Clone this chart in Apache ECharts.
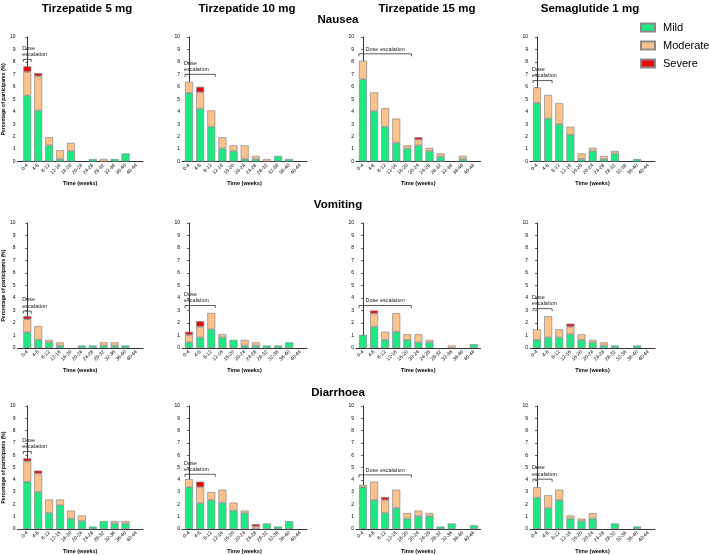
<!DOCTYPE html>
<html><head><meta charset="utf-8">
<script src="https://cdn.jsdelivr.net/npm/echarts@6/dist/echarts.min.js"></script>
<style>html,body{margin:0;padding:0;background:#fff}#c{width:709px;height:555px}</style>
</head><body><div id="c"></div>
<script>
// ---------- data ----------
const timeLabels = ['0-4','4-8','8-12','12-16','16-20','20-24','24-28','28-32','32-36','36-40','40-44'];
const drugs = ['Tirzepatide 5 mg','Tirzepatide 10 mg','Tirzepatide 15 mg','Semaglutide 1 mg'];
const events = ['Nausea','Vomiting','Diarrhoea'];
const severities = ['Mild','Moderate','Severe'];
const yTicks = [0,1,2,3,4,5,6,7,8,9,10];
const escalationText = 'Dose escalation';

// Nausea
const nauT5Mild = [5.3,4.1,1.3,0.2,0.85,0,0.2,0,0.2,0.65,0];
const nauT5Mod  = [1.9,2.75,0.65,0.7,0.65,0,0,0.2,0,0,0];
const nauT5Sev  = [0.45,0.25,0,0,0,0,0,0,0,0,0];
const nauT10Mild = [5.5,4.25,2.8,1.05,0.85,0.2,0.2,0,0.45,0.2,0];
const nauT10Mod  = [0.9,1.3,1.3,0.9,0.45,1.1,0.25,0.2,0,0,0];
const nauT10Sev  = [0,0.45,0,0,0,0,0,0,0,0,0];
const nauT15Mild = [6.6,4.05,2.8,1.5,1.05,1.3,0.85,0.4,0,0.2,0];
const nauT15Mod  = [1.5,1.5,1.5,1.95,0.25,0.45,0.25,0.25,0,0.25,0];
const nauT15Sev  = [0,0,0,0,0,0.2,0,0,0,0,0];
const nauSemaMild = [4.7,3.45,3.0,2.15,0.2,0.85,0.2,0.65,0,0.2,0];
const nauSemaMod  = [1.25,1.9,1.7,0.65,0.45,0.25,0.25,0.2,0,0,0];
const nauSemaSev  = [0,0,0,0,0,0,0,0,0,0,0];
// Vomiting
const vomT5Mild = [1.25,0.65,0.45,0.2,0,0.2,0.2,0.2,0.2,0.2,0];
const vomT5Mod  = [1.05,1.1,0.2,0.25,0,0,0,0.25,0.25,0,0];
const vomT5Sev  = [0.25,0,0,0,0,0,0,0,0,0,0];
const vomT10Mild = [0.45,0.85,1.5,0.85,0.65,0.2,0.2,0.2,0.2,0.45,0];
const vomT10Mod  = [0.6,0.85,1.3,0.25,0,0.45,0.25,0,0,0,0];
const vomT10Sev  = [0.25,0.45,0,0,0,0,0,0,0,0,0];
const vomT15Mild = [1.05,1.7,0.65,1.3,0.65,0.45,0.45,0,0,0,0.3];
const vomT15Mod  = [0,1.05,0.65,1.5,0.45,0.65,0.2,0,0.2,0,0];
const vomT15Sev  = [0,0.25,0,0,0,0,0,0,0,0,0];
const vomSemaMild = [0.65,0.85,0.85,1.1,0.65,0.45,0.2,0.2,0,0.2,0];
const vomSemaMod  = [0.85,1.7,0.65,0.6,0.45,0.2,0.25,0,0,0,0];
const vomSemaSev  = [0,0,0,0.25,0,0,0,0,0,0,0];
// Diarrhoea
const diaT5Mild = [3.85,3.0,1.3,1.95,0.85,0.65,0.2,0.65,0.45,0.45,0];
const diaT5Mod  = [1.65,1.5,1.1,0.45,0.65,0.45,0,0,0.2,0.2,0];
const diaT5Sev  = [0.25,0.25,0,0,0,0,0,0,0,0,0];
const diaT10Mild = [3.4,2.1,2.35,2.15,1.5,1.3,0,0.45,0.2,0.65,0];
const diaT10Mod  = [0.65,1.3,0.65,1.05,0.65,0.2,0.2,0,0,0,0];
const diaT10Sev  = [0,0.45,0,0,0,0,0.2,0,0,0,0];
const diaT15Mild = [3.4,2.35,1.3,1.7,0.85,1.05,1.05,0.2,0.45,0,0.3];
const diaT15Mod  = [0.2,1.5,1.05,1.5,0.45,0.45,0.25,0,0,0,0];
const diaT15Sev  = [0,0,0.25,0,0,0,0,0,0,0,0];
const diaSemaMild = [2.55,1.7,2.35,0.85,0.65,0.85,0,0.45,0,0.2,0];
const diaSemaMod  = [0.85,1.05,0.85,0.25,0.2,0.45,0,0,0,0,0];
const diaSemaSev  = [0,0,0,0,0,0,0,0,0,0,0];

// dose-escalation brackets: [first period index, last period index, y level]
const bracketNausea   = [[0,0,8.2],[0,2,7.0],[0,4,8.65],[0,1,6.5]];
const bracketVomiting = [[0,0,2.95],[0,2,3.4],[0,4,3.4],[0,1,3.15]];
const bracketDiarrhoea= [[0,0,6.3],[0,2,4.45],[0,4,4.4],[0,1,4.05]];

const panels = [
  [[nauT5Mild,nauT5Mod,nauT5Sev],[nauT10Mild,nauT10Mod,nauT10Sev],[nauT15Mild,nauT15Mod,nauT15Sev],[nauSemaMild,nauSemaMod,nauSemaSev]],
  [[vomT5Mild,vomT5Mod,vomT5Sev],[vomT10Mild,vomT10Mod,vomT10Sev],[vomT15Mild,vomT15Mod,vomT15Sev],[vomSemaMild,vomSemaMod,vomSemaSev]],
  [[diaT5Mild,diaT5Mod,diaT5Sev],[diaT10Mild,diaT10Mod,diaT10Sev],[diaT15Mild,diaT15Mod,diaT15Sev],[diaSemaMild,diaSemaMod,diaSemaSev]]
];
const brackets = [bracketNausea, bracketVomiting, bracketDiarrhoea];

// ---------- layout / style ----------
const FONT = 'Liberation Sans, Arial, Helvetica, sans-serif';
const colors = ['#1ee884','#fbc28c','#e8080c'];
const colLeft = [15,182,356,530];
const colWidth = [128,125,124.5,125];
const colMin = [-0.9,-0.63,-0.63,-0.63];
const rowTop = [37,223,406];
const rowHeight = [124.5,125,125];
const colTitleX = [87,247,427,590];
const rowTitle = [{x:338,y:14},{x:338,y:199},{x:338,y:387}];
const BAR_W = 8;

const grid=[], xAxis=[], yAxis=[], series=[], title=[];
drugs.forEach((d,c)=>title.push({text:d,left:colTitleX[c],top:3,textAlign:'center',padding:0,
  textStyle:{fontFamily:FONT,fontSize:11.5,fontWeight:'bold',color:'#000'}}));
events.forEach((e,r)=>title.push({text:e,left:rowTitle[r].x,top:rowTitle[r].y,textAlign:'center',padding:0,
  textStyle:{fontFamily:FONT,fontSize:11.5,fontWeight:'bold',color:'#000'}}));

for(let r=0;r<3;r++){
  for(let c=0;c<4;c++){
    const g=r*4+c;
    grid.push({left:colLeft[c],top:rowTop[r],width:colWidth[c],height:rowHeight[r],containLabel:false});
    xAxis.push({type:'value',gridIndex:g,min:colMin[c],max:10.6,
      axisLine:{show:true,lineStyle:{color:'#000',width:0.8}},
      axisTick:{show:false},splitLine:{show:false},
      axisLabel:{customValues:timeLabels.map((_,i)=>i),formatter:v=>timeLabels[Math.round(v)]||'',
        rotate:45,fontSize:5,fontFamily:FONT,color:'#000',margin:3},
      name:'Time (weeks)',nameLocation:'middle',nameGap:19,
      nameTextStyle:{fontSize:5.5,fontWeight:'bold',fontFamily:FONT,color:'#000'}});
    yAxis.push({type:'value',gridIndex:g,min:yTicks[0],max:yTicks[yTicks.length-1],interval:1,
      axisLine:{show:true,lineStyle:{color:'#000',width:0.8}},
      axisTick:{show:true,length:2,lineStyle:{color:'#000',width:0.6}},
      splitLine:{show:false},
      axisLabel:{fontSize:5,fontFamily:FONT,color:'#000',margin:2},
      name:c===0?'Percentage of participants (%)':'',nameLocation:'middle',nameGap:9,nameRotate:90,
      nameTextStyle:{fontSize:5,fontFamily:FONT,color:'#000',fontWeight:'bold'}});
    const sets=panels[r][c];
    severities.forEach((s,k)=>{
      series.push({name:s,type:'bar',xAxisIndex:g,yAxisIndex:g,stack:'p'+g,barWidth:BAR_W,
        itemStyle:{color:colors[k],borderColor:'#8a8a8a',borderWidth:0.7},
        emphasis:{disabled:true},
        // value first so it is the stacked dimension; period index second
        encode:{x:1,y:0},
        data:sets[k].map((v,i)=>[v===0?null:v, i])});
    });
    series.push({type:'custom',xAxisIndex:g,yAxisIndex:g,silent:true,z:10,clip:false,
      encode:{x:[0,1],y:2},
      data:[brackets[r][c]],
      renderItem:(params,api)=>{
        const s=api.coord([api.value(0),api.value(2)]);
        const e=api.coord([api.value(1),api.value(2)]);
        const x0=s[0]-BAR_W/2, x1=e[0]+BAR_W/2, y=s[1];
        const single = api.value(1)>=4;
        return {type:'group',children:[
          {type:'polyline',shape:{points:[[x0,y+2.5],[x0,y],[x1,y],[x1,y+2.5]]},
            style:{stroke:'#333',lineWidth:0.8,fill:null}},
          {type:'text',x:single?(x0+x1)/2:x0-1,y:y-1.5,
            style:{text:single?escalationText:escalationText.replace(' ','\n'),fontSize:5.5,lineHeight:6.5,
              fontFamily:FONT,fill:'#222',align:single?'center':'left',verticalAlign:'bottom'}}
        ]};
      }});
  }
}

const chart = echarts.init(document.getElementById('c'),null,{renderer:'canvas'});
chart.setOption({
  animation:false,
  backgroundColor:'#fff',
  title,
  legend:{data:severities,orient:'vertical',left:640,top:22,padding:0,itemWidth:14,itemHeight:8,itemGap:7,
    icon:'rect',selectedMode:false,
    textStyle:{fontSize:11,fontFamily:FONT,color:'#000',padding:[0,0,0,3]}},
  grid,xAxis,yAxis,series
});
</script></body></html>
